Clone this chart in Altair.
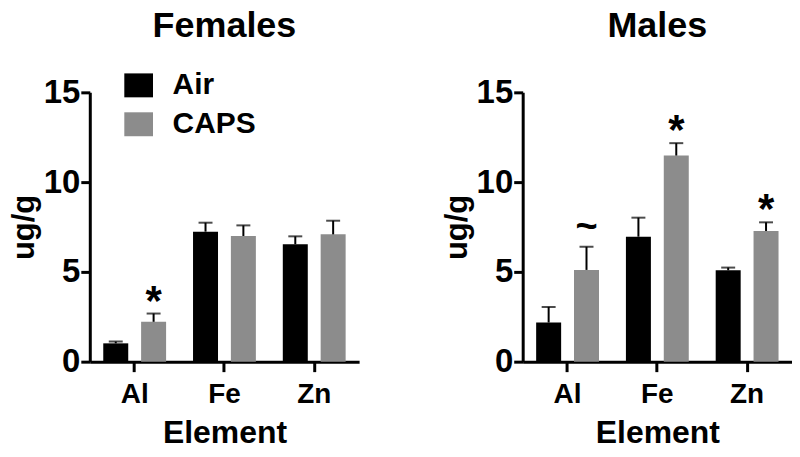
import altair as alt
import pandas as pd

elements = ["Al", "Fe", "Zn"]
groups = ["Air", "CAPS"]

fem_air = [1.02, 7.24, 6.54]
fem_air_err = [0.10, 0.50, 0.44]
fem_caps = [2.22, 7.00, 7.09]
fem_caps_err = [0.46, 0.59, 0.76]
fem_caps_sig = ["*", "", ""]

male_air = [2.18, 6.96, 5.09]
male_air_err = [0.87, 1.06, 0.15]
male_caps = [5.11, 11.48, 7.28]
male_caps_err = [1.29, 0.69, 0.48]
male_caps_sig = ["~", "*", "*"]

FONT = "Liberation Sans"
GRAY = "#8c8c8c"

rows = []
for sex, air, air_e, caps, caps_e, sig in [
    ("Females", fem_air, fem_air_err, fem_caps, fem_caps_err, fem_caps_sig),
    ("Males", male_air, male_air_err, male_caps, male_caps_err, male_caps_sig),
]:
    for i, el in enumerate(elements):
        rows.append(dict(sex=sex, element=el, group="Air", mean=air[i], sem=air_e[i],
                         top=air[i] + air_e[i], sig=""))
        rows.append(dict(sex=sex, element=el, group="CAPS", mean=caps[i], sem=caps_e[i],
                         top=caps[i] + caps_e[i], sig=sig[i]))
df = pd.DataFrame(rows)


def panel(sex, show_legend, title_offset):
    base = alt.Chart(df).transform_filter(alt.datum.sex == sex)
    x = alt.X("element:N", sort=elements,
              scale=alt.Scale(paddingInner=0.3, paddingOuter=0.15),
              axis=alt.Axis(title="Element", labelAngle=0, labelFontSize=28,
                            titleFontSize=32, tickSize=10, labelPadding=9,
                            titlePadding=9))
    xo = alt.XOffset("group:N", sort=groups,
                     scale=alt.Scale(paddingInner=0.34, paddingOuter=0))
    yscale = alt.Scale(domain=[0, 15])
    if show_legend:
        legend = alt.Legend(orient="none", legendX=34, legendY=-22, title=None,
                            symbolType="M-1.2,-1L1.2,-1L1.2,1L-1.2,1Z",
                            symbolSize=576, symbolStrokeWidth=0,
                            labelFontSize=30, labelFont=FONT, labelFontWeight="bold",
                            labelOffset=19, rowPadding=9, padding=0,
                            labelColor="black")
    else:
        legend = None
    color = alt.Color("group:N", scale=alt.Scale(domain=groups, range=["#000000", GRAY]),
                      legend=legend)
    bars = base.mark_bar().encode(
        x=x, xOffset=xo,
        y=alt.Y("mean:Q", scale=yscale,
                axis=alt.Axis(values=[0, 5, 10, 15], title="ug/g", labelFontSize=33,
                              titleFontSize=31, tickSize=9, labelPadding=1,
                              titlePadding=3)),
        color=color,
    )
    err = base.mark_rule(strokeWidth=2, color="black").encode(
        x=x, xOffset=xo, y=alt.Y("mean:Q", scale=yscale), y2="top:Q")
    cap = base.mark_tick(orient="horizontal", size=14, thickness=2, color="black").encode(
        x=x, xOffset=xo, y=alt.Y("top:Q", scale=yscale))
    star = base.transform_filter(alt.datum.sig == "*").mark_text(
        fontSize=42, fontWeight="bold", font=FONT, baseline="alphabetic", dy=1,
        color="black").encode(x=x, xOffset=xo, y=alt.Y("top:Q", scale=yscale), text="sig:N")
    tilde = base.transform_filter(alt.datum.sig == "~").mark_text(
        fontSize=38, fontWeight="bold", font=FONT, baseline="alphabetic", dy=-8,
        color="black").encode(x=x, xOffset=xo, y=alt.Y("top:Q", scale=yscale), text="sig:N")
    return alt.layer(bars, err, cap, star, tilde).properties(
        width=270, height=270,
        title=alt.TitleParams(sex, fontSize=36, font=FONT, fontWeight="bold",
                              anchor="middle", frame="group", offset=title_offset,
                              color="black"),
    )


chart = alt.hconcat(
    panel("Females", True, 31),
    panel("Males", False, 31),
    spacing=82,
).properties(
    padding=0
).configure_view(stroke=None).configure_axis(
    labelFont=FONT, titleFont=FONT, labelFontWeight="bold", titleFontWeight="bold",
    labelColor="black", titleColor="black", domainColor="black", tickColor="black",
    domainWidth=3, tickWidth=3, grid=False,
)

chart.save("out.html", embed_options={"renderer": "svg", "actions": False})
